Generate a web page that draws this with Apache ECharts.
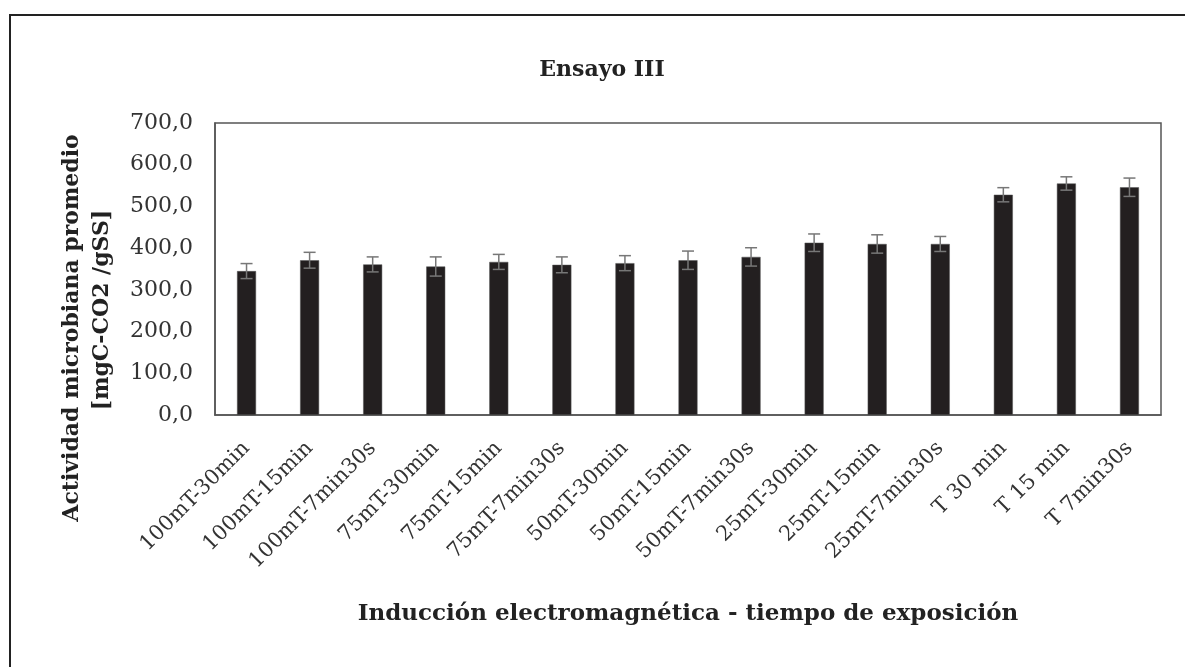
<!DOCTYPE html>
<html>
<head>
<meta charset="utf-8">
<script src="https://cdn.jsdelivr.net/npm/echarts@6/dist/echarts.min.js"></script>
<style>
  html, body { margin: 0; padding: 0; overflow: hidden; background: #fff; }
  #frame {
    position: absolute; left: 9px; top: 14px; width: 1200px; height: 700px;
    border: 2px solid #222; box-sizing: border-box;
  }
  #chart { position: absolute; left: 0; top: 0; width: 1185px; height: 667px; }
</style>
</head>
<body>
<div id="frame"></div>
<div id="chart"></div>
<script>
// values
const categories = [
  '100mT-30min', '100mT-15min', '100mT-7min30s',
  '75mT-30min', '75mT-15min', '75mT-7min30s',
  '50mT-30min', '50mT-15min', '50mT-7min30s',
  '25mT-30min', '25mT-15min', '25mT-7min30s',
  'T 30 min', 'T 15 min', 'T 7min30s'
]
const means = [345, 371, 361, 356, 367, 360, 364, 371, 379, 413, 410, 410, 528, 555, 546]
const errors = [18, 19, 18, 23, 18, 19, 18, 22, 22, 21, 22, 18, 17, 16, 22]
const yTicks = [0, 100, 200, 300, 400, 500, 600, 700]

const serif = '"DejaVu Serif", "Liberation Serif", serif'
const chart = echarts.init(document.getElementById('chart'))

const errData = means.map((m, i) => [i, m - errors[i], m + errors[i]])

const option = {
  animation: false,
  title: {
    text: 'Ensayo III',
    left: 597,
    top: 54,
    textAlign: 'center',
    textStyle: { fontFamily: serif, fontSize: 22, fontWeight: 'bold', color: '#222' }
  },
  grid: {
    left: 215, top: 123, right: 24, bottom: 252,
    show: true, borderColor: '#555', borderWidth: 1.5
  },
  xAxis: {
    type: 'category',
    data: categories,
    axisLine: { lineStyle: { color: '#555', width: 1.5 } },
    axisTick: { show: false },
    axisLabel: {
      interval: 0, rotate: 45, margin: 30,
      fontFamily: serif, fontSize: 21, color: '#333'
    }
  },
  yAxis: {
    type: 'value',
    min: yTicks[0],
    max: yTicks[yTicks.length - 1],
    interval: 100,
    splitLine: { show: false },
    axisLine: { show: true, lineStyle: { color: '#555', width: 1.5 } },
    axisTick: { show: false },
    axisLabel: {
      margin: 22,
      fontFamily: serif, fontSize: 22, color: '#333',
      formatter: v => v.toFixed(1).replace('.', ',')
    }
  },
  graphic: [
    {
      type: 'text',
      x: 72, y: 328, rotation: Math.PI / 2,
      style: {
        text: 'Actividad microbiana promedio',
        font: 'bold 22px ' + serif, fill: '#222',
        textAlign: 'center', textVerticalAlign: 'middle'
      }
    },
    {
      type: 'text',
      x: 102, y: 310, rotation: Math.PI / 2,
      style: {
        text: '[mgC-CO2 /gSS]',
        font: 'bold 22px ' + serif, fill: '#222',
        textAlign: 'center', textVerticalAlign: 'middle'
      }
    },
    {
      type: 'text',
      x: 688, y: 614,
      style: {
        text: 'Inducción electromagnética - tiempo de exposición',
        font: 'bold 23px ' + serif, fill: '#222',
        textAlign: 'center', textVerticalAlign: 'middle'
      }
    }
  ],
  series: [
    {
      type: 'bar',
      data: means,
      barWidth: 19,
      itemStyle: { color: '#231f20', borderColor: '#555', borderWidth: 0.5 }
    },
    {
      type: 'custom',
      data: errData,
      z: 5,
      renderItem: (params, api) => {
        const x = api.value(0)
        const lo = api.coord([x, api.value(1)])
        const hi = api.coord([x, api.value(2)])
        const half = 6
        const style = { stroke: '#777', lineWidth: 1.5 }
        return {
          type: 'group',
          children: [
            { type: 'line', shape: { x1: lo[0], y1: lo[1], x2: hi[0], y2: hi[1] }, style },
            { type: 'line', shape: { x1: hi[0] - half, y1: hi[1], x2: hi[0] + half, y2: hi[1] }, style },
            { type: 'line', shape: { x1: lo[0] - half, y1: lo[1], x2: lo[0] + half, y2: lo[1] }, style }
          ]
        }
      }
    }
  ]
}

chart.setOption(option)
</script>
</body>
</html>
